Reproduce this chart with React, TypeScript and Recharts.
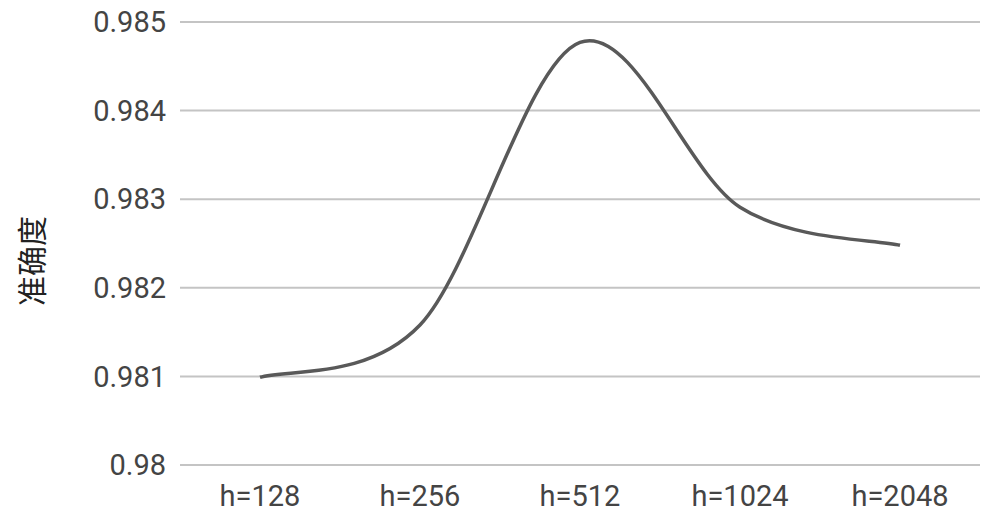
import React from 'react'
import { LineChart, Line, XAxis, YAxis, CartesianGrid } from 'recharts'

const CATEGORIES = ['h=128', 'h=256', 'h=512', 'h=1024', 'h=2048']
const ACCURACY = [0.98099, 0.98158, 0.98477, 0.98291, 0.98248]
const Y_TICKS = [0.98, 0.981, 0.982, 0.983, 0.984, 0.985]

const data = CATEGORIES.map((name, i) => ({ name, value: ACCURACY[i] }))

// Excel-style smoothed line (Catmull-Rom through the points)
function smoothCurve(context: any) {
  let pts: [number, number][] = []
  return {
    areaStart() {},
    areaEnd() {},
    lineStart() { pts = [] },
    point(x: number, y: number) { pts.push([+x, +y]) },
    lineEnd() {
      if (!pts.length) return
      context.moveTo(pts[0][0], pts[0][1])
      for (let i = 0; i < pts.length - 1; i++) {
        const p0 = pts[i - 1] || pts[i]
        const p1 = pts[i]
        const p2 = pts[i + 1]
        const p3 = pts[i + 2] || p2
        context.bezierCurveTo(
          p1[0] + (p2[0] - p0[0]) / 6, p1[1] + (p2[1] - p0[1]) / 6,
          p2[0] - (p3[0] - p1[0]) / 6, p2[1] - (p3[1] - p1[1]) / 6,
          p2[0], p2[1],
        )
      }
    },
  }
}

const tickStyle = { fontSize: 29, fill: '#444', fontFamily: 'Roboto' }

export default function App() {
  return (
    <div style={{ position: 'absolute', left: 0, top: 0, width: 991, height: 514, background: '#fff' }}>
      <div
        style={{
          position: 'absolute', left: 30, top: 261, transform: 'translate(-50%, -50%) rotate(-90deg)',
          fontFamily: '"Noto Sans CJK SC"', fontSize: 30, color: '#222', whiteSpace: 'nowrap',
        }}
      >
        准确度
      </div>
      <LineChart width={991} height={514} data={data} margin={{ top: 22, right: 11, left: 0, bottom: 0 }}>
        <CartesianGrid vertical={false} stroke="#c4c4c4" strokeWidth={2} />
        <XAxis
          dataKey="name"
          axisLine={false}
          tickLine={false}
          tick={tickStyle}
          tickMargin={14}
          height={49}
          interval={0}
          padding={{ left: 80, right: 80 }}
        />
        <YAxis
          domain={[0.98, 0.985]}
          ticks={Y_TICKS}
          axisLine={false}
          tickLine={false}
          tick={tickStyle}
          tickMargin={8}
          width={180}
          interval={0}
        />
        <Line
          type={smoothCurve as any}
          dataKey="value"
          stroke="#595959"
          strokeWidth={3.5}
          dot={false}
          activeDot={false}
          isAnimationActive={false}
        />
      </LineChart>
    </div>
  )
}
